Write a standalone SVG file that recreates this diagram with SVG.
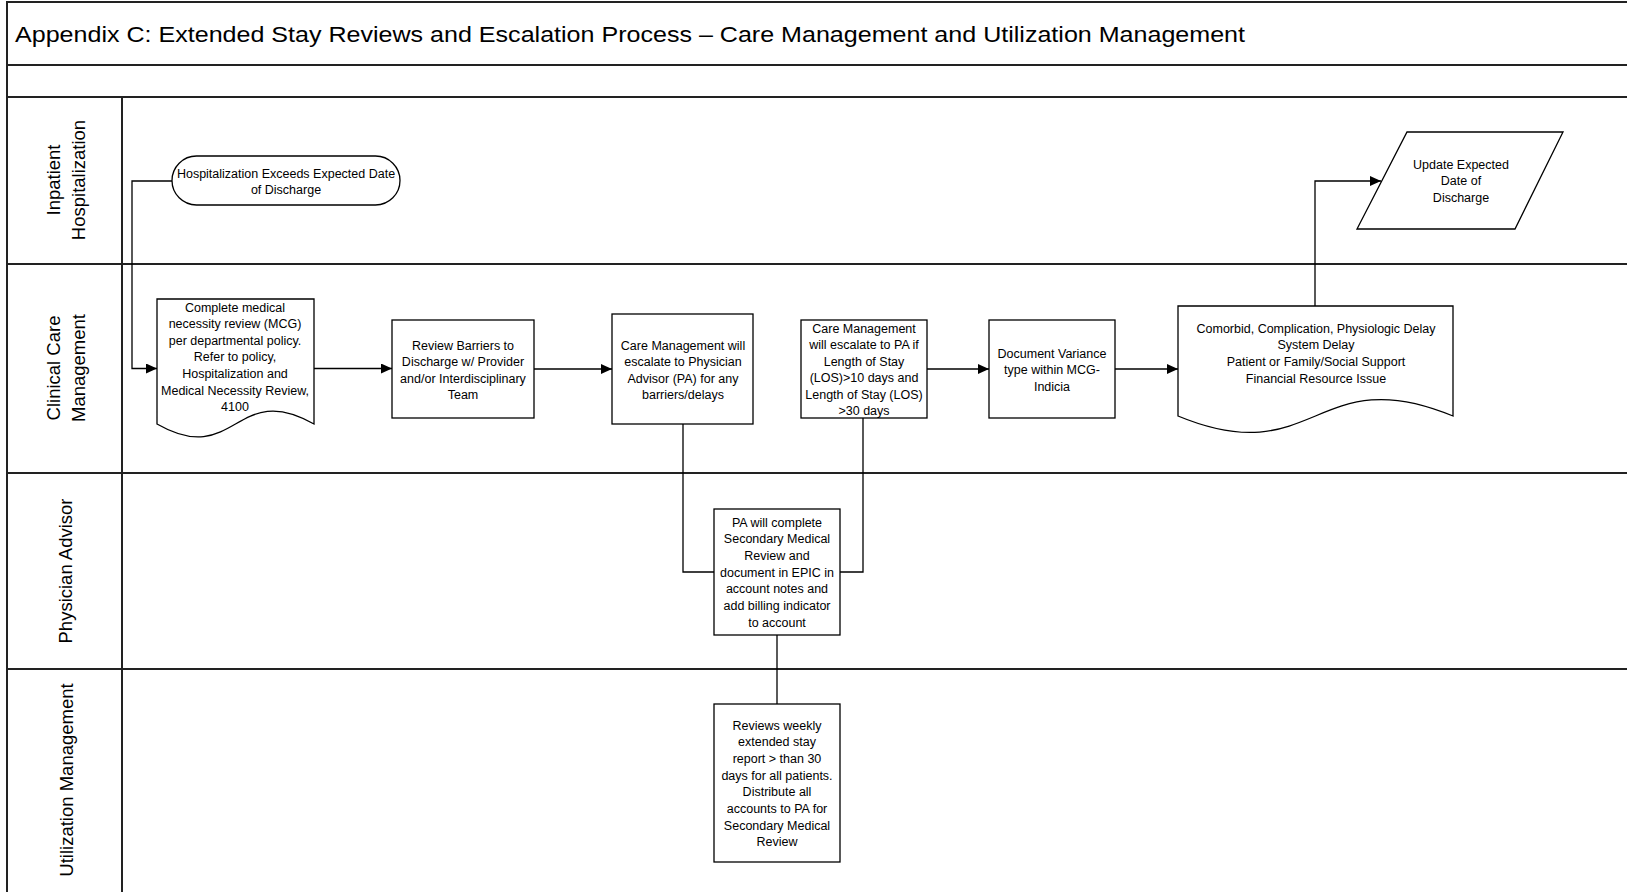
<svg xmlns="http://www.w3.org/2000/svg" width="1627" height="892" viewBox="0 0 1627 892">
<style>
.lane{stroke:#222;stroke-width:2;fill:none}
.shape{fill:#fff;stroke:#000;stroke-width:1.3}
.conn{fill:none;stroke:#000;stroke-width:1.3}
.t{font-family:"Liberation Sans",Arial,sans-serif;font-size:12.5px;fill:#000;text-anchor:middle}
.lt{font-family:"Liberation Sans",Arial,sans-serif;font-size:18.5px;fill:#000;text-anchor:middle}
.title{font-family:"Liberation Sans",Arial,sans-serif;font-size:21.5px;fill:#000}
</style>
<defs>
<marker id="arr" markerUnits="userSpaceOnUse" markerWidth="12" markerHeight="10" refX="11" refY="5" orient="auto">
<path d="M0,0 L11,5 L0,10 Z" fill="#000"/>
</marker>
</defs>
<rect width="1627" height="892" fill="#fff"/>
<g id="frame">
<path class="lane" d="M7,892 V2 H1627"/>
<path class="lane" d="M7,65 H1627 M7,97 H1627 M122,97 V892 M7,264 H1627 M7,473 H1627 M7,669 H1627"/>
<text class="title" x="15" y="42" textLength="1230" lengthAdjust="spacingAndGlyphs">Appendix C: Extended Stay Reviews and Escalation Process – Care Management and Utilization Management</text>
</g>
<g id="lane-labels">
<text class="lt" transform="translate(60,180) rotate(-90)">Inpatient</text>
<text class="lt" transform="translate(85,180) rotate(-90)">Hospitalization</text>
<text class="lt" transform="translate(60,368) rotate(-90)">Clinical Care</text>
<text class="lt" transform="translate(85,368) rotate(-90)">Management</text>
<text class="lt" transform="translate(72,571) rotate(-90)">Physician Advisor</text>
<text class="lt" transform="translate(72.5,780) rotate(-90)">Utilization Management</text>
</g>
<g id="connectors">
<path class="conn" d="M172,181 H132 V368.5 H157" marker-end="url(#arr)"/>
<path class="conn" d="M314,368.5 H392" marker-end="url(#arr)"/>
<path class="conn" d="M534,369 H612" marker-end="url(#arr)"/>
<path class="conn" d="M683,424 V572 H714"/>
<path class="conn" d="M863,418 V572 H840"/>
<path class="conn" d="M927,369 H989" marker-end="url(#arr)"/>
<path class="conn" d="M1115,369 H1178" marker-end="url(#arr)"/>
<path class="conn" d="M1315,306 V181 H1381" marker-end="url(#arr)"/>
<path class="conn" d="M777,635 V704"/>
</g>
<g id="n-start">
<rect class="shape" x="172" y="156" width="228" height="49" rx="24.5"/>
<text class="t" x="286"><tspan x="286" y="177.5">Hospitalization Exceeds Expected Date</tspan><tspan x="286" y="193.5">of Discharge</tspan></text>
</g>
<g id="n-review">
<path class="shape" d="M157,299 H314 V424 C235.5,379 235.5,469 157,424 Z"/>
<text class="t"><tspan x="235" y="311.5">Complete medical</tspan><tspan x="235" y="328.1">necessity review (MCG)</tspan><tspan x="235" y="344.7">per departmental policy.</tspan><tspan x="235" y="361.3">Refer to policy,</tspan><tspan x="235" y="377.9">Hospitalization and</tspan><tspan x="235" y="394.5">Medical Necessity Review,</tspan><tspan x="235" y="411.1">4100</tspan></text>
</g>
<g id="n-barriers">
<rect class="shape" x="392" y="320" width="142" height="98"/>
<text class="t"><tspan x="463" y="349.5">Review Barriers to</tspan><tspan x="463" y="366">Discharge w/ Provider</tspan><tspan x="463" y="382.5">and/or Interdisciplinary</tspan><tspan x="463" y="399">Team</tspan></text>
</g>
<g id="n-escalate">
<rect class="shape" x="612" y="314" width="141" height="110"/>
<text class="t"><tspan x="683" y="349.5">Care Management will</tspan><tspan x="683" y="366">escalate to Physician</tspan><tspan x="683" y="382.5">Advisor (PA) for any</tspan><tspan x="683" y="399">barriers/delays</tspan></text>
</g>
<g id="n-los">
<rect class="shape" x="801" y="320" width="126" height="98"/>
<text class="t"><tspan x="864" y="332.5">Care Management</tspan><tspan x="864" y="349">will escalate to PA if</tspan><tspan x="864" y="365.5">Length of Stay</tspan><tspan x="864" y="382">(LOS)&gt;10 days and</tspan><tspan x="864" y="398.5">Length of Stay (LOS)</tspan><tspan x="864" y="415">&gt;30 days</tspan></text>
</g>
<g id="n-variance">
<rect class="shape" x="989" y="320" width="126" height="98"/>
<text class="t"><tspan x="1052" y="357.5">Document Variance</tspan><tspan x="1052" y="374">type within MCG-</tspan><tspan x="1052" y="390.5">Indicia</tspan></text>
</g>
<g id="n-delays">
<path class="shape" d="M1178,306 H1453 V416 C1315.5,359 1315.5,473 1178,416 Z"/>
<text class="t"><tspan x="1316" y="332.5">Comorbid, Complication, Physiologic Delay</tspan><tspan x="1316" y="349">System Delay</tspan><tspan x="1316" y="366">Patient or Family/Social Support</tspan><tspan x="1316" y="382.5">Financial Resource Issue</tspan></text>
</g>
<g id="n-update">
<polygon class="shape" points="1407,132 1563,132 1515,229 1357,229"/>
<text class="t"><tspan x="1461" y="168.5">Update Expected</tspan><tspan x="1461" y="185">Date of</tspan><tspan x="1461" y="201.5">Discharge</tspan></text>
</g>
<g id="n-pa">
<rect class="shape" x="714" y="509" width="126" height="126"/>
<text class="t"><tspan x="777" y="526.5">PA will complete</tspan><tspan x="777" y="543.2">Secondary Medical</tspan><tspan x="777" y="559.8">Review and</tspan><tspan x="777" y="576.5">document in EPIC in</tspan><tspan x="777" y="593.2">account notes and</tspan><tspan x="777" y="609.8">add billing indicator</tspan><tspan x="777" y="626.5">to account</tspan></text>
</g>
<g id="n-um">
<rect class="shape" x="714" y="704" width="126" height="158"/>
<text class="t"><tspan x="777" y="729.5">Reviews weekly</tspan><tspan x="777" y="746.2">extended stay</tspan><tspan x="777" y="762.8">report &gt; than 30</tspan><tspan x="777" y="779.5">days for all patients.</tspan><tspan x="777" y="796.2">Distribute all</tspan><tspan x="777" y="812.8">accounts to PA for</tspan><tspan x="777" y="829.5">Secondary Medical</tspan><tspan x="777" y="846.2">Review</tspan></text>
</g>
</svg>
